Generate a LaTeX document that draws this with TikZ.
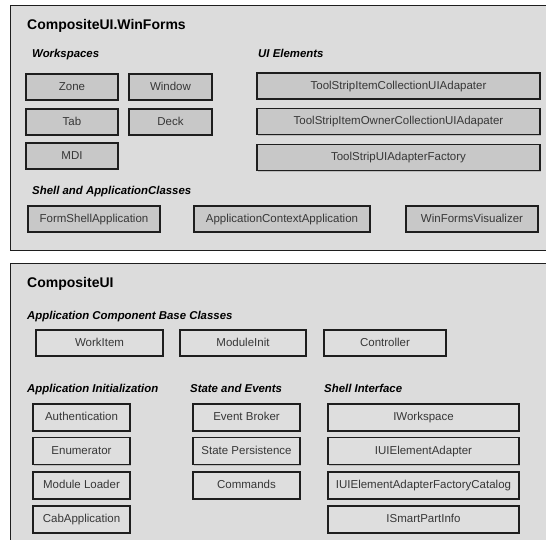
\documentclass[tikz,border=0pt]{standalone}
\usepackage{fontspec}
\setmainfont{Liberation Sans}
\usetikzlibrary{shadows}
\definecolor{panelfill}{RGB}{220,220,220}
\definecolor{darkbox}{RGB}{200,200,200}
\definecolor{lightbox}{RGB}{222,222,222}
\definecolor{edge}{RGB}{30,30,30}
\definecolor{boxtext}{RGB}{55,55,55}
\tikzset{
  panel/.style={draw=edge, line width=1.4pt, fill=panelfill, inner sep=0pt, anchor=north west},
  basebox/.style={draw=edge, line width=1.6pt, inner sep=0pt, text=boxtext,
     text height=8.5pt, text depth=2.5pt,
     font=\fontsize{11.5}{13}\selectfont,
     drop shadow={shadow xshift=1pt, shadow yshift=-1pt, fill=black!35, opacity=0.6}},
  topbox/.style={basebox, fill=darkbox},
  botbox/.style={basebox, fill=lightbox},
  ptitle/.style={anchor=base west, inner sep=0pt, font=\fontsize{14}{16}\selectfont\bfseries},
  sect/.style={anchor=base west, inner sep=0pt, font=\fontsize{11.4}{13}\selectfont\bfseries\itshape},
}
\begin{document}
\begin{tikzpicture}[x=1pt,y=-1pt]
\clip (0,0) rectangle (546,539);
\fill[white] (0,0) rectangle (546,539);
% panels
\node[panel, minimum width=545pt, minimum height=245pt] (top) at (10,5) {};
\node[panel, minimum width=545pt, minimum height=285pt] (bot) at (10,263) {};
% top panel
\node[ptitle] (t1) at (27,29.5) {CompositeUI.WinForms};
\node[sect] (ws) at (32,57.5) {Workspaces};
\node[sect] (uie) at (258,57.5) {UI Elements};
\node[sect] (shell) at (32,194.5) {Shell and ApplicationClasses};
\node[topbox, minimum width=92pt, minimum height=26pt] (zone) at (72,87) {Zone};
\node[topbox, minimum width=83pt, minimum height=26pt] (window) at (170.5,87) {Window};
\node[topbox, minimum width=92pt, minimum height=26pt] (tab) at (72,122) {Tab};
\node[topbox, minimum width=83pt, minimum height=26pt] (deck) at (170.5,122) {Deck};
\node[topbox, minimum width=92pt, minimum height=26pt] (mdi) at (72,156) {MDI};
\node[topbox, minimum width=283pt, minimum height=26pt] (ts1) at (398.5,86) {ToolStripItemCollectionUIAdapater};
\node[topbox, minimum width=283pt, minimum height=26pt] (ts2) at (398.5,121.5) {ToolStripItemOwnerCollectionUIAdapater};
\node[topbox, minimum width=283pt, minimum height=26pt] (ts3) at (398.5,157.5) {ToolStripUIAdapterFactory};
\node[topbox, minimum width=132pt, minimum height=26pt] (fsa) at (94,219) {FormShellApplication};
\node[topbox, minimum width=176pt, minimum height=26pt] (aca) at (282,219) {ApplicationContextApplication};
\node[topbox, minimum width=132pt, minimum height=26pt] (wfv) at (472,219) {WinFormsVisualizer};
% bottom panel
\node[ptitle] (t2) at (27,287) {CompositeUI};
\node[sect] (acb) at (27,319.5) {Application Component Base Classes};
\node[sect] (ai) at (27,392) {Application Initialization};
\node[sect] (se) at (190,392) {State and Events};
\node[sect] (si) at (324,392) {Shell Interface};
\node[botbox, minimum width=127pt, minimum height=26pt] (wi) at (99.5,343) {WorkItem};
\node[botbox, minimum width=126pt, minimum height=26pt] (mi) at (243,343) {ModuleInit};
\node[botbox, minimum width=122pt, minimum height=26pt] (ctl) at (385,343) {Controller};
\node[botbox, minimum width=97pt, minimum height=27pt] (auth) at (81.5,417.5) {Authentication};
\node[botbox, minimum width=97pt, minimum height=27pt] (enum) at (81.5,451) {Enumerator};
\node[botbox, minimum width=97pt, minimum height=27pt] (ml) at (81.5,485.5) {Module Loader};
\node[botbox, minimum width=97pt, minimum height=27pt] (cab) at (81.5,519.5) {CabApplication};
\node[botbox, minimum width=107pt, minimum height=27pt] (eb) at (246.5,417.5) {Event Broker};
\node[botbox, minimum width=107pt, minimum height=27pt] (sp) at (246.5,451) {State Persistence};
\node[botbox, minimum width=107pt, minimum height=27pt] (cmd) at (246.5,485.5) {Commands};
\node[botbox, minimum width=191pt, minimum height=27pt] (iws) at (423.5,417.5) {IWorkspace};
\node[botbox, minimum width=191pt, minimum height=27pt] (iuiea) at (423.5,451) {IUIElementAdapter};
\node[botbox, minimum width=191pt, minimum height=27pt] (iuieafc) at (423.5,485.5) {IUIElementAdapterFactoryCatalog};
\node[botbox, minimum width=191pt, minimum height=27pt] (ispi) at (423.5,519.5) {ISmartPartInfo};
\end{tikzpicture}
\end{document}
